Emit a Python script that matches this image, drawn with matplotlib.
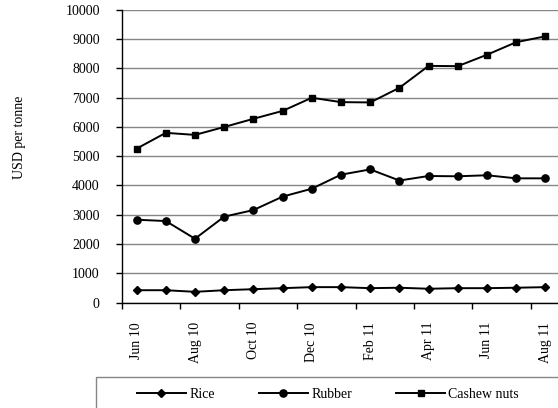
import matplotlib
matplotlib.use("Agg")
import matplotlib.pyplot as plt
from matplotlib.patches import Rectangle

months = ["Jun 10", "Jul 10", "Aug 10", "Sep 10", "Oct 10", "Nov 10", "Dec 10",
          "Jan 11", "Feb 11", "Mar 11", "Apr 11", "May 11", "Jun 11", "Jul 11", "Aug 11"]
rice = [420, 420, 365, 420, 455, 490, 525, 525, 490, 505, 470, 490, 490, 505, 525]
rubber = [2830, 2785, 2180, 2935, 3160, 3620, 3890, 4370, 4550, 4170, 4325, 4315, 4350, 4245, 4245]
cashew = [5260, 5800, 5730, 6000, 6280, 6550, 7000, 6850, 6840, 7340, 8090, 8080, 8470, 8900, 9100]
yticks = list(range(0, 10001, 1000))

plt.rcParams['font.family'] = ['Liberation Serif', 'DejaVu Serif']
plt.rcParams['font.size'] = 10

W, H = 558, 408
fig = plt.figure(figsize=(W / 100, H / 100), dpi=100)
ax = fig.add_axes([122 / W, (H - 302.5) / H, 438 / W, 292.5 / H])

x = list(range(len(months)))
ax.plot(x, rice, color='black', lw=1.4, marker='D', ms=3.6, label='Rice')
ax.plot(x, rubber, color='black', lw=1.4, marker='o', ms=5.2, label='Rubber')
ax.plot(x, cashew, color='black', lw=1.4, marker='s', ms=4.2, label='Cashew nuts')

ax.set_xlim(-0.5, len(months) - 0.5)
ax.set_ylim(0, 10000)
ax.set_yticks(yticks)
ax.set_yticklabels([str(v) for v in yticks])
ax.yaxis.grid(True, color='#868686', lw=1)
ax.set_axisbelow(True)

# major ticks at category boundaries (every 2), labels at centers
ax.set_xticks([i - 0.5 for i in range(0, len(months), 2)])
ax.set_xticklabels([])
ax.set_xticks(list(range(0, len(months), 2)), minor=True)
ax.set_xticklabels([months[i] for i in range(0, len(months), 2)], minor=True, rotation=90)
ax.tick_params(axis='x', which='major', direction='out', length=4, width=1, color='black')
ax.tick_params(axis='x', which='minor', length=0, pad=14, labelsize=10)
ax.tick_params(axis='y', direction='out', length=4, width=1, pad=12, labelsize=10)

for s in ['top', 'right']:
    ax.spines[s].set_visible(False)
for s in ['left', 'bottom']:
    ax.spines[s].set_color('black')
    ax.spines[s].set_linewidth(1)

fig.text(20 / W, (H - 137) / H, 'USD per tonne', rotation=90, ha='center', va='center', fontsize=10)

# legend box
fig.patches.append(Rectangle((96 / W, -0.2), 1.0, (H - 377) / H + 0.2, transform=fig.transFigure,
                             fill=False, edgecolor='#868686', lw=1))
leg = fig.legend(handles=ax.get_lines(), loc='center left', bbox_to_anchor=(137 / W, (H - 394) / H),
                 ncol=3, frameon=False, borderpad=0, borderaxespad=0, handlelength=3.5,
                 handletextpad=0.25, columnspacing=3.2, numpoints=1, fontsize=10)

fig.savefig('out.png', dpi=100)
